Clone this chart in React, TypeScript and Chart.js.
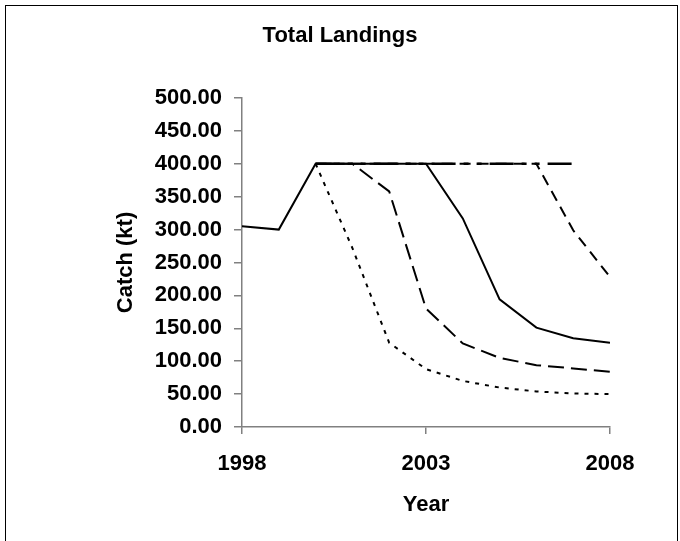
import React, { useEffect, useRef } from "react";
import { Chart, registerables } from "chart.js";

Chart.register(...registerables);

const TITLE = "Total Landings";
const X_TITLE = "Year";
const Y_TITLE = "Catch (kt)";

const years = [1998, 1999, 2000, 2001, 2002, 2003, 2004, 2005, 2006, 2007, 2008];
// series values (kt); null = no value for that year
const seriesA = [305, 300, 400, 400, 400, 400, 317, 194, 151, 135, 128];
const seriesB = [null, null, 400, 400, 358, 180, 127, 105, 94, 89, 84];
const seriesC = [null, null, 400, 272, 128, 88, 70, 60, 54, 51, 50];
const seriesD = [null, null, 400, 400, 400, 400, 400, 400, 400, 299, 228];
const seriesE = [null, null, 400, 400, 400, 400, 400, 400, 400, 400, null];

const xTicks = [1998, 2003, 2008];
const yMin = 0;
const yMax = 500;
const yStep = 50;

const FONT = "'Liberation Sans', Arial, sans-serif";

function pts(vals: (number | null)[]) {
  const out: { x: number; y: number }[] = [];
  vals.forEach((v, i) => {
    if (v !== null) out.push({ x: years[i], y: v });
  });
  return out;
}

export default function App() {
  const ref = useRef<HTMLCanvasElement | null>(null);

  useEffect(() => {
    document.body.style.margin = "0";
    const canvas = ref.current;
    if (!canvas) return;

    const framePlugin = {
      id: "frame",
      afterDraw(chart: any) {
        const ctx = chart.ctx;
        ctx.save();
        ctx.strokeStyle = "#000";
        ctx.lineWidth = 1;
        ctx.strokeRect(5.5, 5.5, 672, 545);
        ctx.fillStyle = "#000";
        ctx.font = `bold 22px ${FONT}`;
        ctx.textAlign = "center";
        ctx.textBaseline = "middle";
        ctx.fillText(TITLE, 340, 35.5);
        ctx.restore();
      },
    };

    const mk = (label: string, vals: (number | null)[], dash: number[], width = 2) => ({
      label,
      data: pts(vals),
      borderColor: "#000",
      backgroundColor: "#000",
      borderWidth: width,
      borderDash: dash,
      borderCapStyle: "butt",
      pointRadius: 0,
      tension: 0,
      fill: false,
    });

    const chart = new Chart(canvas, {
      type: "line",
      data: {
        datasets: [
          mk("A", seriesA, []),
          mk("B", seriesB, [16, 7]),
          mk("C", seriesC, [4, 6]),
          mk("D", seriesD, [11, 7]),
          mk("E", seriesE, [24, 8, 5, 8, 5, 8], 2.5),
        ] as any,
      },
      options: {
        responsive: false,
        animation: false,
        devicePixelRatio: 1,
        layout: { padding: { left: 109, top: 98, right: 70, bottom: 0 } },
        plugins: {
          legend: { display: false },
          title: { display: false },
          tooltip: { enabled: false },
        },
        scales: {
          x: {
            type: "linear",
            min: years[0],
            max: years[years.length - 1],
            afterBuildTicks: (scale: any) => {
              scale.ticks = xTicks.map((v) => ({ value: v }));
            },
            afterFit: (scale: any) => {
              scale.height = 114;
            },
            ticks: {
              color: "#000",
              font: { family: FONT, size: 22, weight: "bold" },
              padding: 17,
              maxRotation: 0,
              autoSkip: false,
              callback: (v: any) => String(v),
            },
            grid: {
              display: true,
              drawOnChartArea: false,
              drawTicks: true,
              tickLength: 7,
              color: "#808080",
              lineWidth: 1.5,
            },
            border: { display: true, color: "#808080", width: 1.5 },
            title: {
              display: true,
              text: X_TITLE,
              color: "#000",
              font: { family: FONT, size: 22, weight: "bold" },
              padding: { top: 0, bottom: 23 },
            },
          },
          y: {
            type: "linear",
            min: yMin,
            max: yMax,
            afterFit: (scale: any) => {
              scale.width = 133;
            },
            ticks: {
              stepSize: yStep,
              color: "#000",
              font: { family: FONT, size: 22, weight: "bold" },
              padding: 12,
              callback: (v: any) => Number(v).toFixed(2),
            },
            grid: {
              display: true,
              drawOnChartArea: false,
              drawTicks: true,
              tickLength: 8,
              color: "#808080",
              lineWidth: 1.5,
            },
            border: { display: true, color: "#808080", width: 1.5 },
            title: {
              display: true,
              text: Y_TITLE,
              color: "#000",
              font: { family: FONT, size: 22, weight: "bold" },
              padding: { top: 4, bottom: 0 },
            },
          },
        },
      } as any,
      plugins: [framePlugin],
    });

    return () => chart.destroy();
  }, []);

  return (
    <div style={{ width: 680, height: 541 }}>
      <canvas ref={ref} width={680} height={541} style={{ display: "block" }} />
    </div>
  );
}
